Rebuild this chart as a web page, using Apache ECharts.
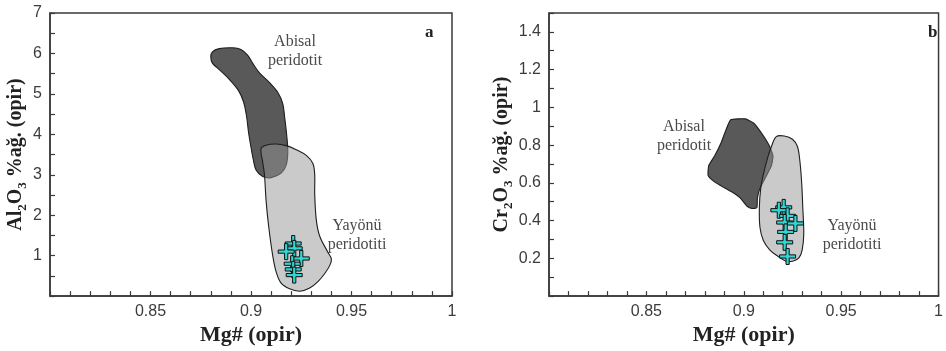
<!DOCTYPE html>
<html>
<head>
<meta charset="utf-8">
<script src="https://cdn.jsdelivr.net/npm/echarts@6/dist/echarts.min.js"></script>
<style>
  html, body { margin: 0; padding: 0; background: #fff; }
  #chart { width: 946px; height: 351px; }
</style>
</head>
<body>
<div id="chart"></div>
<script>
// ---- Panel a: Al2O3 (wt%) vs Mg# of orthopyroxene ----
const abyssalA_mg = [0.880, 0.8808, 0.8842, 0.8908, 0.895, 0.8983, 0.9008, 0.9042, 0.9092, 0.9133, 0.9158, 0.9167, 0.9178, 0.9183, 0.9175, 0.915, 0.910, 0.9058, 0.9025, 0.9012, 0.900, 0.8988, 0.8978, 0.8963, 0.8938, 0.8892, 0.8842, 0.8808];
const abyssalA_al = [5.92, 6.04, 6.12, 6.14, 6.10, 5.96, 5.76, 5.52, 5.28, 5.04, 4.76, 4.44, 3.96, 3.56, 3.24, 3.04, 2.93, 2.96, 3.12, 3.36, 3.68, 4.04, 4.44, 4.80, 5.08, 5.36, 5.60, 5.76];
const yayonuA_mg = [0.905, 0.9075, 0.9125, 0.9175, 0.9225, 0.9275, 0.9308, 0.9317, 0.9317, 0.9325, 0.9342, 0.9383, 0.940, 0.9392, 0.9367, 0.9333, 0.9292, 0.9242, 0.9192, 0.915, 0.9125, 0.9108, 0.9088, 0.9075, 0.9067, 0.9058];
const yayonuA_al = [3.64, 3.73, 3.76, 3.72, 3.62, 3.48, 3.28, 3.00, 2.52, 1.88, 1.48, 1.08, 0.92, 0.76, 0.56, 0.36, 0.20, 0.12, 0.18, 0.32, 0.60, 1.00, 1.72, 2.36, 3.00, 3.32];
const samplesA_mg = [0.921, 0.9215, 0.9175, 0.925, 0.9205, 0.921, 0.9215];
const samplesA_al = [1.30, 1.18, 1.10, 0.93, 0.80, 0.66, 0.52];

// ---- Panel b: Cr2O3 (wt%) vs Mg# of orthopyroxene ----
const abyssalB_mg = [0.8933, 0.9008, 0.905, 0.9092, 0.9133, 0.915, 0.9142, 0.9117, 0.9083, 0.907, 0.9067, 0.9042, 0.9017, 0.8983, 0.895, 0.890, 0.885, 0.8817, 0.882, 0.885, 0.8883, 0.8908];
const abyssalB_cr = [0.934, 0.939, 0.917, 0.862, 0.793, 0.742, 0.691, 0.639, 0.571, 0.519, 0.468, 0.464, 0.476, 0.519, 0.545, 0.574, 0.605, 0.639, 0.691, 0.742, 0.811, 0.879];
const yayonuB_mg = [0.9167, 0.9208, 0.925, 0.9275, 0.9287, 0.9297, 0.9303, 0.9308, 0.930, 0.9283, 0.925, 0.9217, 0.9175, 0.9133, 0.910, 0.9083, 0.908, 0.9087, 0.9103, 0.9125, 0.9142];
const yayonuB_cr = [0.845, 0.848, 0.831, 0.794, 0.725, 0.605, 0.468, 0.331, 0.245, 0.202, 0.185, 0.185, 0.211, 0.245, 0.296, 0.365, 0.468, 0.571, 0.656, 0.742, 0.793];
const samplesB_mg = [0.9205, 0.918, 0.9225, 0.921, 0.9265, 0.9215, 0.921, 0.9225];
const samplesB_cr = [0.47, 0.455, 0.425, 0.39, 0.385, 0.34, 0.285, 0.21];

// Axis ranges and labelled ticks
const mgRange = [0.8, 1.0];
const mgLabels = ['0.85', '0.9', '0.95', '1'];
const alRange = [0, 7];
const alLabels = ['1', '2', '3', '4', '5', '6', '7'];
const crRange = [0, 1.5];
const crLabels = ['0.2', '0.4', '0.6', '0.8', '1', '1.2', '1.4'];

const zip = (xs, ys) => xs.map((x, i) => [x, ys[i]]);

const SANS = '"Liberation Sans", Arial, sans-serif';
const SERIF = '"Liberation Serif", "Times New Roman", serif';
const AXIS_COLOR = '#3a3a3a';
const LABEL_COLOR = '#3c3c3c';

// thin plus sign used for the sample markers
const plus = 'path://M4,0 L6,0 L6,4 L10,4 L10,6 L6,6 L6,10 L4,10 L4,6 L0,6 L0,4 L4,4 Z';

function tickLabel(list) {
  return function (v) {
    const s = String(Math.round(v * 100) / 100);
    return list.indexOf(s) >= 0 ? s : '';
  };
}

function valueAxis(gridIndex, range, interval, labels, extra) {
  return Object.assign({
    type: 'value',
    gridIndex: gridIndex,
    min: range[0],
    max: range[1],
    interval: interval,
    axisLine: { show: true, lineStyle: { color: AXIS_COLOR, width: 1.5 } },
    axisTick: { show: true, inside: true, length: 5, lineStyle: { color: AXIS_COLOR, width: 1.2 } },
    axisLabel: {
      color: LABEL_COLOR, fontFamily: SANS, fontSize: 16,
      formatter: tickLabel(labels)
    },
    splitLine: { show: false },
    nameLocation: 'middle',
    nameTextStyle: { color: '#222', fontFamily: SERIF, fontWeight: 'bold', fontSize: 22 }
  }, extra);
}

function oxideName(el, tail) {
  return '{m|' + el + '}{s|2}{m|O}{s|3}{m|' + tail + '}';
}
const richName = {
  m: { fontFamily: SERIF, fontWeight: 'bold', fontSize: 20, color: '#222', lineHeight: 26, verticalAlign: 'middle' },
  s: { fontFamily: SERIF, fontWeight: 'bold', fontSize: 13, color: '#222', lineHeight: 13, verticalAlign: 'bottom' }
};

function field(idx, mg, ox, fill, smooth, z) {
  const pts = zip(mg, ox);
  return {
    type: 'custom',
    xAxisIndex: idx, yAxisIndex: idx,
    z: z,
    silent: true,
    data: [pts[0]],
    renderItem: function (params, api) {
      return {
        type: 'polygon',
        shape: { points: pts.map(p => api.coord(p)), smooth: smooth },
        style: { fill: fill, stroke: '#1e1e1e', lineWidth: 1.1 }
      };
    }
  };
}

function samples(idx, mg, ox) {
  return {
    type: 'scatter',
    xAxisIndex: idx, yAxisIndex: idx,
    z: 10,
    symbol: plus,
    symbolSize: 16,
    itemStyle: { color: '#2fd6d2', borderColor: '#111', borderWidth: 1, opacity: 1 },
    data: zip(mg, ox)
  };
}

const DARK = '#595959';
const LIGHT = 'rgba(150,150,150,0.5)';
const mgAxisLabel = { color: LABEL_COLOR, fontFamily: SANS, fontSize: 16, margin: 7, formatter: tickLabel(mgLabels) };

const option = {
  backgroundColor: '#fff',
  animation: false,
  grid: [
    { left: 50, top: 13, width: 402, height: 292, show: true, borderColor: AXIS_COLOR, borderWidth: 1.5, backgroundColor: 'transparent' },
    { left: 549, top: 13, width: 400, height: 291, show: true, borderColor: AXIS_COLOR, borderWidth: 1.5, backgroundColor: 'transparent' }
  ],
  xAxis: [
    valueAxis(0, mgRange, 0.01, mgLabels, { name: 'Mg# (opir)', nameGap: 23, axisLabel: mgAxisLabel }),
    valueAxis(1, mgRange, 0.01, mgLabels, { name: 'Mg# (opir)', nameGap: 23, axisLabel: mgAxisLabel })
  ],
  yAxis: [
    valueAxis(0, alRange, 0.5, alLabels, { name: oxideName('Al', ' %ağ. (opir)'), nameGap: 17, nameTextStyle: { rich: richName } }),
    valueAxis(1, crRange, 0.1, crLabels, { name: oxideName('Cr', ' %ağ. (opir)'), nameGap: 28, nameTextStyle: { rich: richName } })
  ],
  series: [
    field(0, abyssalA_mg, abyssalA_al, DARK, 0.35, 2),
    field(0, yayonuA_mg, yayonuA_al, LIGHT, 0.35, 3),
    samples(0, samplesA_mg, samplesA_al),
    field(1, abyssalB_mg, abyssalB_cr, DARK, 0.15, 2),
    field(1, yayonuB_mg, yayonuB_cr, LIGHT, 0.35, 3),
    samples(1, samplesB_mg, samplesB_cr)
  ],
  graphic: [
    { type: 'text', left: 425, top: 24, style: { text: 'a', font: 'bold 17px ' + SERIF, fill: '#222' } },
    { type: 'text', left: 928, top: 24, style: { text: 'b', font: 'bold 17px ' + SERIF, fill: '#222' } },
    { type: 'text', x: 295, y: 32, style: { text: 'Abisal\nperidotit', font: '16px ' + SERIF, fill: '#4a4a4a', align: 'center', lineHeight: 19 } },
    { type: 'text', x: 357, y: 216, style: { text: 'Yayönü\nperidotiti', font: '16px ' + SERIF, fill: '#4a4a4a', align: 'center', lineHeight: 19 } },
    { type: 'text', x: 684, y: 117, style: { text: 'Abisal\nperidotit', font: '16px ' + SERIF, fill: '#4a4a4a', align: 'center', lineHeight: 19 } },
    { type: 'text', x: 852, y: 216, style: { text: 'Yayönü\nperidotiti', font: '16px ' + SERIF, fill: '#4a4a4a', align: 'center', lineHeight: 19 } }
  ]
};

const chart = echarts.init(document.getElementById('chart'), null, { renderer: 'canvas' });
chart.setOption(option);
</script>
</body>
</html>
